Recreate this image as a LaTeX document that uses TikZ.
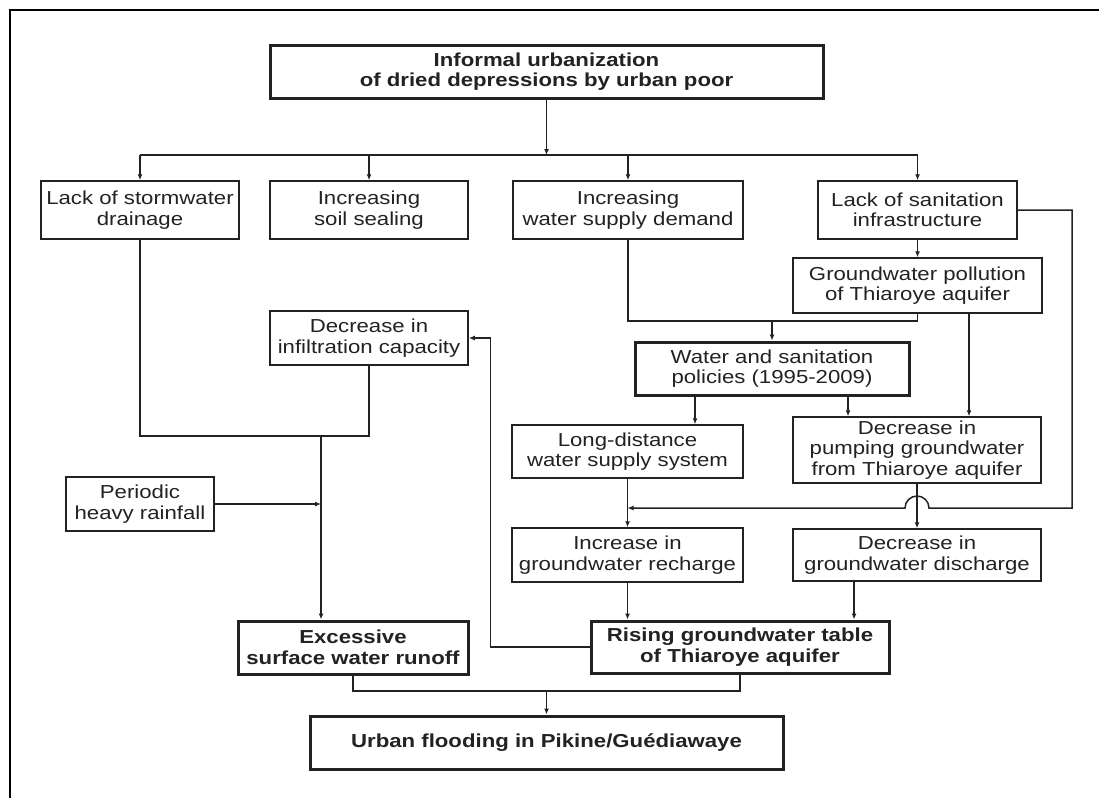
\documentclass[tikz,border=0pt]{standalone}
\usepackage{fontspec}
\setmainfont[FakeStretch=1.18]{Liberation Sans}
\usetikzlibrary{arrows.meta}
\definecolor{ink}{HTML}{222222}
\begin{document}
\begin{tikzpicture}[x=1pt,y=-1pt,
  box/.style={draw=ink, line width=1.5pt, fill=white, align=center, inner sep=0pt, text=ink,
    font=\fontsize{18.8}{20.5}\selectfont},
  thickbox/.style={box, line width=3pt},
  boldbox/.style={thickbox, font=\fontsize{18.8}{20.5}\selectfont\bfseries},
  conn/.style={draw=ink, line width=1.5pt},
  arr/.style={conn, -{Latex[length=6pt,width=5pt]}}]
\useasboundingbox (0,0) rectangle (1099,798);
\draw[line width=2pt, line join=miter] (10,798) -- (10,10) -- (1099,10);

% nodes
\node[boldbox, minimum width=553pt, minimum height=53pt] (top) at (546.5,71.5) {Informal urbanization\\of dried depressions by urban poor};
\node[box, minimum width=198pt, minimum height=58pt] (A) at (140,210) {Lack of stormwater\\drainage};
\node[box, minimum width=198pt, minimum height=58pt] (B) at (369,210) {Increasing\\soil sealing};
\node[box, minimum width=230pt, minimum height=58pt] (C) at (628,210) {Increasing\\water supply demand};
\node[box, minimum width=199pt, minimum height=58pt] (D) at (917.5,210) {Lack of sanitation\\infrastructure};
\node[box, minimum width=249pt, minimum height=55pt] (E) at (917.5,285.5) {Groundwater pollution\\of Thiaroye aquifer};
\node[box, minimum width=198pt, minimum height=54pt] (H) at (369,338) {Decrease in\\infiltration capacity};
\node[thickbox, minimum width=274pt, minimum height=53pt] (F) at (772,368.5) {Water and sanitation\\policies (1995-2009)};
\node[box, minimum width=231pt, minimum height=53pt] (L) at (627.5,451.5) {Long-distance\\water supply system};
\node[box, minimum width=248pt, minimum height=66pt] (G) at (917,450) {Decrease in\\pumping groundwater\\from Thiaroye aquifer};
\node[box, minimum width=148pt, minimum height=54pt] (P) at (140,504) {Periodic\\heavy rainfall};
\node[box, minimum width=231pt, minimum height=54pt] (R) at (627.5,555) {Increase in\\groundwater recharge};
\node[box, minimum width=248pt, minimum height=52pt] (Q) at (917,555) {Decrease in\\groundwater discharge};
\node[boldbox, minimum width=230pt, minimum height=53pt] (X) at (353,647.5) {Excessive\\surface water runoff};
\node[boldbox, minimum width=298pt, minimum height=52pt] (S) at (740,647) {Rising groundwater table\\of Thiaroye aquifer};
\node[boldbox, minimum width=473pt, minimum height=53pt] (U) at (546.5,742.5) {Urban flooding in Pikine/Guédiawaye};

% top bus
\coordinate (bus) at (546.5,155);
\draw[arr] (top.south) -- (bus);
\draw[conn] (A.north |- bus) -- (D.north |- bus);
\foreach \n in {A,B,C,D} \draw[arr] (\n.north |- bus) -- (\n.north);

% sanitation branch
\draw[arr] (D.south) -- (E.north);
\coordinate (m1) at (772,321);
\draw[conn] (C.south) |- (E.south |- m1) -- (E.south);
\draw[arr] (m1) -- (F.north);
\draw[arr] ([xshift=51.5pt]E.south) -- ([xshift=51.5pt]E.south |- G.north);
\draw[arr] ([xshift=-77pt]F.south) -- ([xshift=-77pt]F.south |- L.north);
\draw[arr] ([xshift=76pt]F.south) -- ([xshift=76pt]F.south |- G.north);

% long loop from sanitation with hop
\coordinate (hop) at (917,508);
\coordinate (j) at (627.5,508);
\draw[arr] (D.east) -| (1072,508) -- ([xshift=12pt]hop) arc[start angle=0, end angle=180, radius=12pt] -- (j);
\draw[arr] (L.south) -- (R.north);
\draw[arr] (G.south) -- (Q.north);
\draw[arr] (R.south) -- (R.south |- S.north);
\draw[arr] ([xshift=-63pt]Q.south) -- ([xshift=-63pt]Q.south |- S.north);

% feedback to infiltration
\draw[arr] (S.west) -- ++(-99,0) |- (H.east);

% left side
\coordinate (m2) at (321,436);
\draw[conn] (A.south) |- (H.south |- m2) -- (H.south);
\draw[arr] (m2) -- (m2 |- X.north);
\draw[arr] (P.east) -- (P.east -| m2);

% bottom
\coordinate (m3) at (546.5,691);
\draw[conn] (X.south) |- (S.south |- m3) -- (S.south);
\draw[arr] (m3) -- (U.north);
\end{tikzpicture}
\end{document}
